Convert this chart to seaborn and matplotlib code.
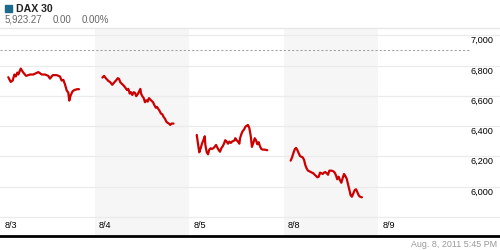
import numpy as np
import pandas as pd
import matplotlib
matplotlib.use("Agg")
import matplotlib.pyplot as plt
import seaborn as sns

# ---------------- data ----------------
days = ["8/3", "8/4", "8/5", "8/8"]
tick_labels = ["8/3", "8/4", "8/5", "8/8", "8/9"]

# minutes after the 9:00 open, index level
d1_min = [9, 26, 40, 52, 62, 73, 80, 97, 115, 135, 163, 186, 222, 246, 269, 292, 304, 324,
          352, 375, 387, 399, 411, 423, 434, 441, 451, 465, 481, 498, 510]
d1_val = [6723, 6692, 6701, 6741, 6728, 6754, 6741, 6780, 6754, 6732, 6741, 6741, 6757, 6741,
          6741, 6732, 6714, 6737, 6737, 6728, 6701, 6706, 6675, 6635, 6622, 6569, 6604, 6631,
          6640, 6644, 6644]

d2_min = [6, 18, 30, 48, 62, 76, 91, 105, 115, 124, 133, 147, 157, 171, 181, 190, 200, 209,
          218, 228, 237, 246, 256, 266, 275, 280, 289, 299, 308, 317, 327, 336, 346, 355, 365,
          374, 384, 393, 402, 412, 421, 430, 440, 450, 459, 469, 478, 487, 497, 510]
d2_val = [6721, 6732, 6717, 6699, 6690, 6673, 6690, 6704, 6717, 6712, 6690, 6677, 6668, 6651,
          6638, 6646, 6615, 6624, 6606, 6624, 6620, 6598, 6611, 6628, 6646, 6615, 6598, 6585,
          6558, 6571, 6562, 6585, 6575, 6567, 6558, 6540, 6522, 6527, 6514, 6500, 6483, 6479,
          6461, 6448, 6430, 6421, 6417, 6408, 6417, 6417]

d3_min = [5, 14, 23, 33, 42, 52, 62, 66, 76, 85, 94, 104, 113, 122, 132, 142, 151, 161, 170,
          179, 189, 198, 207, 217, 227, 236, 246, 255, 264, 274, 278, 288, 297, 307, 312, 321,
          331, 340, 349, 359, 368, 378, 388, 396, 406, 416, 425, 434, 444, 453, 463, 472, 486, 505]
d3_val = [6342, 6284, 6227, 6254, 6284, 6307, 6333, 6276, 6227, 6214, 6245, 6254, 6249, 6254,
          6263, 6276, 6258, 6241, 6231, 6254, 6267, 6284, 6307, 6298, 6284, 6298, 6289, 6298,
          6302, 6307, 6320, 6307, 6298, 6284, 6320, 6347, 6368, 6377, 6395, 6403, 6408, 6386,
          6333, 6263, 6289, 6320, 6307, 6280, 6294, 6267, 6249, 6245, 6245, 6241]

d4_min = [1, 11, 20, 30, 39, 48, 58, 67, 76, 86, 96, 105, 115, 124, 133, 143, 152, 161, 171,
          181, 190, 200, 209, 218, 228, 237, 246, 256, 266, 275, 289, 303, 313, 322, 331, 341,
          350, 360, 370, 379, 388, 398, 407, 416, 426, 435, 445, 455, 464, 473, 483, 492, 506]
d4_val = [6172, 6194, 6221, 6247, 6256, 6243, 6221, 6203, 6198, 6194, 6177, 6142, 6119, 6106,
          6102, 6097, 6093, 6089, 6079, 6071, 6062, 6066, 6093, 6089, 6084, 6093, 6097, 6089,
          6079, 6106, 6106, 6102, 6093, 6075, 6049, 6066, 6044, 6026, 6058, 6084, 6071, 6053,
          6018, 5983, 5943, 5934, 5956, 5978, 5983, 5965, 5943, 5934, 5930]

prev_close = 6902
y_ticks = [6000, 6200, 6400, 6600, 6800, 7000]
title = "DAX 30"
last_price = "5,923.27"
change = "0.00"
change_pct = "0.00%"
timestamp = "Aug. 8, 2011 5:45 PM"

# ---------------- build frame ----------------
OPEN_H = 9.0
SLOT_START_H = 8.17   # start of each day's slot on the axis
SLOT_LEN_H = 11.16    # length of one day slot in hours

rows = []
for i, (mins, vals) in enumerate([(d1_min, d1_val), (d2_min, d2_val),
                                   (d3_min, d3_val), (d4_min, d4_val)]):
    for m, v in zip(mins, vals):
        hour = OPEN_H + m / 60.0
        rows.append({"day": days[i], "pos": i + (hour - SLOT_START_H) / SLOT_LEN_H, "value": v})
df = pd.DataFrame(rows)

# ---------------- style ----------------
sns.set_style("white")
plt.rcParams["font.family"] = ["Liberation Sans", "DejaVu Sans"]

fig = plt.figure(figsize=(5, 2.5), dpi=100)
ax = fig.add_axes([0, 14 / 250, 1, (236 - 28) / 250])

px_per_1000 = 151.4
top_v = 7000 + (35.3 - 28) / px_per_1000 * 1000
bot_v = 7000 - (236 - 35.3) / px_per_1000 * 1000
ax.set_ylim(bot_v, top_v)
ax.set_xlim(0, 500 / 94.5)

# alternating day bands
for i in range(len(tick_labels)):
    if i % 2 == 1:
        ax.axvspan(i, i + 1, color="#f6f6f6", lw=0, zorder=0)

# gridlines
for v in y_ticks + [5800]:
    ax.axhline(v, color="#ebebeb", lw=0.9, zorder=1)

# previous close dashed line
ax.axhline(prev_close, xmin=0, xmax=0.94, color="#a0a0a0", lw=0.75,
           ls=(0, (2, 2)), zorder=2)

sns.lineplot(data=df, x="pos", y="value", units="day", estimator=None,
             color="#cc0000", lw=1.6, ax=ax, zorder=3)

ax.set_xticks([])
ax.set_yticks([])
ax.set_xlabel("")
ax.set_ylabel("")
for s in ["left", "right"]:
    ax.spines[s].set_visible(False)
ax.spines["top"].set_color("#e6e6e6")
ax.spines["top"].set_linewidth(0.9)
ax.spines["bottom"].set_color("black")
ax.spines["bottom"].set_linewidth(2.0)

# y labels inside, right side, just below gridlines
for v in y_ticks:
    ax.annotate(f"{v:,}", xy=(1, v), xycoords=("axes fraction", "data"),
                xytext=(-4.5, -3.8), textcoords="offset points",
                ha="right", va="center", fontsize=6.6, color="black")

# x labels at the start of each day slot
for i, lab in enumerate(tick_labels):
    ax.annotate(lab, xy=(i, 0), xycoords=("data", "axes fraction"),
                xytext=(3, 7.5), textcoords="offset points",
                ha="left", va="center", fontsize=6.6, color="black")

# header
fig.patches.append(plt.Rectangle((5 / 500, 1 - 12 / 250), 6.5 / 500, 6.5 / 250,
                                 transform=fig.transFigure, color="#1d6b8a"))
fig.text(15.5 / 500, 1 - 8.7 / 250, title, fontsize=7.6, fontweight="bold",
         ha="left", va="center", color="#222222")
fig.text(5 / 500, 1 - 20 / 250, last_price, fontsize=7, ha="left", va="center", color="#666666")
fig.text(53 / 500, 1 - 20 / 250, change, fontsize=7, ha="left", va="center", color="#666666")
fig.text(82 / 500, 1 - 20 / 250, change_pct, fontsize=7, ha="left", va="center", color="#666666")
fig.text(497 / 500, 1 - 244.5 / 250, timestamp, fontsize=6.4, ha="right", va="center",
         color="#999999")

fig.savefig("out.png", dpi=100)
